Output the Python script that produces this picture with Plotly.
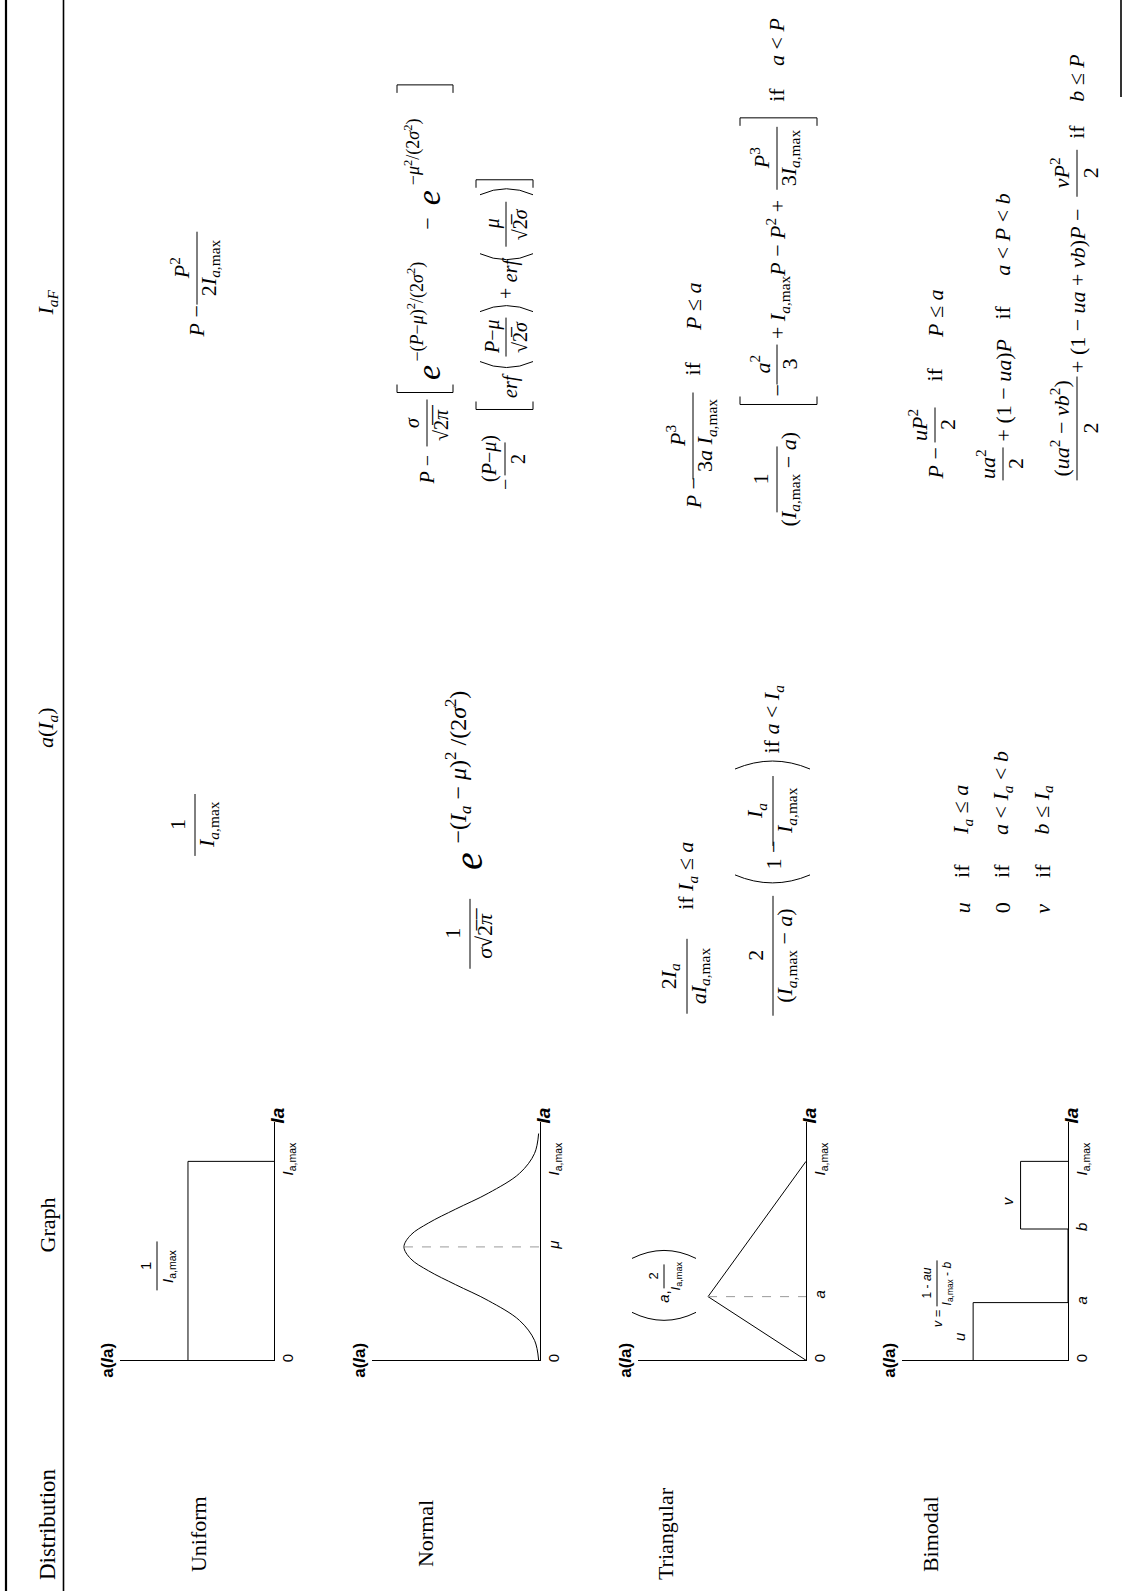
import plotly.graph_objects as go

W, H = 1133, 1593
SERIF = "Liberation Serif"
SANS = "Liberation Sans"
IMAX = "<i>I</i><sub><i>a</i>,max</sub>"
IMAX_S = "<i>I</i><sub>a,max</sub>"
NB = "\u00a0"
OV = "\u0305"

# ---------------- data ----------------
headers = ["Distribution", "Graph", "<i>a</i>(<i>I<sub>a</sub></i>)", "<i>I<sub>aF</sub></i>"]
distributions = ["Uniform", "Normal", "Triangular", "Bimodal"]

# graphs: Ia on the vertical axis, a(Ia) on the horizontal axis (Ia,max = 1)
uniform_Ia = [0.0, 1.0, 1.0]
uniform_a = [1.0, 1.0, 0.0]
uniform_ticks = [0.0, 1.0]
uniform_ticktext = ["0", IMAX_S]

normal_Ia = [0.00, 0.10, 0.20, 0.30, 0.38, 0.45, 0.51, 0.57, 0.63, 0.69, 0.76, 0.84, 0.94, 1.04, 1.14]
normal_a = [0.01, 0.04, 0.15, 0.38, 0.62, 0.82, 0.95, 1.00, 0.95, 0.82, 0.62, 0.38, 0.15, 0.04, 0.01]
normal_mu = 0.57
normal_peak = 1.0
normal_ticks = [0.0, 0.57, 1.0]
normal_ticktext = ["0", "<i>μ</i>", IMAX_S]

tri_mode = 0.32
tri_peak = 2.0
tri_Ia = [0.0, 0.32, 1.0]
tri_a = [0.0, 2.0, 0.0]
tri_ticks = [0.0, 0.32, 1.0]
tri_ticktext = ["0", "<i>a</i>", IMAX_S]

bi_Ia = [0.0, 0.29, 0.29, 0.66, 0.66, 1.0, 1.0]
bi_a = [1.0, 1.0, 0.0, 0.0, 0.5, 0.5, 0.0]
bi_u, bi_v = 1.0, 0.5
bi_ticks = [0.0, 0.29, 0.66, 1.0]
bi_ticktext = ["0", "<i>a</i>", "<i>b</i>", IMAX_S]

# ---------------- figure ----------------
fig = go.Figure()
ann = []
shapes = []


def T(x, y, s, size=22, font=SERIF, anchor="bottom", color="black"):
    ann.append(dict(x=x, y=y, xref="x", yref="y", text=s, showarrow=False,
                    textangle=-90, xanchor="center", yanchor=anchor,
                    font=dict(family=font, size=size, color=color)))


def L(x0, y0, x1, y1, w=1.0, color="black", dash="solid"):
    shapes.append(dict(type="line", xref="x", yref="y", x0=x0, y0=y0, x1=x1, y1=y1,
                       line=dict(color=color, width=w, dash=dash)))


def P(path, w=1.0):
    shapes.append(dict(type="path", xref="x", yref="y", path=path,
                       line=dict(color="black", width=w)))


def frac(bx, yb, yt, num, den, size=22, font=SERIF, no=-17, do=13, w=1.0):
    L(bx, yb, bx, yt, w=w)
    ym = (yb + yt) / 2
    T(bx + no, ym, num, size, font, "middle")
    T(bx + do, ym, den, size, font, "middle")


def lbr(x0, x1, y, d=8):   # "[" rotated
    P(f"M {x0},{y-d} L {x0},{y} L {x1},{y} L {x1},{y-d}")


def rbr(x0, x1, y, d=8):   # "]" rotated
    P(f"M {x0},{y+d} L {x0},{y} L {x1},{y} L {x1},{y+d}")


def lpar(x0, x1, y, d=12):  # "(" rotated
    P(f"M {x0},{y} Q {(x0+x1)/2},{y+2*d} {x1},{y}")


def rpar(x0, x1, y, d=12):  # ")" rotated
    P(f"M {x0},{y} Q {(x0+x1)/2},{y-2*d} {x1},{y}")


def sp(s):
    return s.replace(" ", NB)


SQ2PI = "√2" + OV + "<i>π</i>" + OV
SQ2S = "√2" + OV + "<i>σ</i>"

# table rules
L(6, 0, 6, H, w=2.2)
L(63.5, 0, 63.5, H, w=1.6)
shapes.append(dict(type="line", xref="paper", yref="paper", x0=1121 / W, x1=1121 / W,
                   y0=1.0, y1=1 - 97 / H, line=dict(color="black", width=1.6)))

# headers
T(47, 1526, headers[0], 23, anchor="middle")
T(47, 1227, headers[1], 22, anchor="middle")
T(47, 729, headers[2], 22, anchor="middle")
T(47, 303, headers[3], 22, anchor="middle")

# distribution names
for xc, name in zip([198, 425, 665, 930], distributions):
    T(xc, 1536, name, 22, anchor="middle")

# ---------------- mini graphs ----------------
Y0, YT, IA_TOP = 1362, 1123, 1.2
boxes = [(120, 274, 1.79), (372, 540, 1.235), (638, 806, 3.43), (902, 1068, 1.75)]
gdata = [
    (uniform_a, uniform_Ia, uniform_ticks, uniform_ticktext),
    (normal_a, normal_Ia, normal_ticks, normal_ticktext),
    (tri_a, tri_Ia, tri_ticks, tri_ticktext),
    (bi_a, bi_Ia, bi_ticks, bi_ticktext),
]
for k, ((xl, xo, aleft), (ax, ay, tv, tt)) in enumerate(zip(boxes, gdata), start=2):
    xa, ya = f"x{k}", f"y{k}"
    fig.add_trace(go.Scatter(x=ax, y=ay, xaxis=xa, yaxis=ya, mode="lines",
                             line=dict(color="black", width=1,
                                       shape="spline" if k == 3 else "linear"),
                             hoverinfo="skip"))
    fig.layout[f"xaxis{k}"] = dict(domain=[xl / W, xo / W], range=[aleft, 0], anchor=ya,
                                   showline=True, linecolor="black", linewidth=1,
                                   showgrid=False, zeroline=False, showticklabels=False,
                                   ticks="", fixedrange=True)
    fig.layout[f"yaxis{k}"] = dict(domain=[1 - Y0 / H, 1 - YT / H], range=[0, IA_TOP],
                                   anchor=xa, side="right", showline=True, linecolor="black",
                                   linewidth=1, showgrid=False, zeroline=False, ticks="",
                                   tickvals=tv, ticktext=tt, tickangle=-90,
                                   tickfont=dict(family=SANS, size=15, color="black"),
                                   fixedrange=True)
    ann.append(dict(x=aleft, y=0, xref=xa, yref=ya, text="<b>a(<i>I</i>a)</b>",
                    showarrow=False, textangle=-90, xanchor="right", yanchor="middle",
                    xshift=-1, font=dict(family=SANS, size=17, color="black")))
    ann.append(dict(x=0, y=IA_TOP, xref=xa, yref=ya, text="<b><i>Ia</i></b>",
                    showarrow=False, textangle=-90, xanchor="center", yanchor="bottom",
                    xshift=4, yshift=-4, font=dict(family=SANS, size=19, color="black")))

# dashed guides
fig.add_trace(go.Scatter(x=[normal_peak, 0], y=[normal_mu, normal_mu], xaxis="x3", yaxis="y3",
                         mode="lines", line=dict(color="#9a9a9a", width=1, dash="dash"),
                         hoverinfo="skip"))
fig.add_trace(go.Scatter(x=[tri_peak, 0], y=[tri_mode, tri_mode], xaxis="x4", yaxis="y4",
                         mode="lines", line=dict(color="#9a9a9a", width=1, dash="dash"),
                         hoverinfo="skip"))

# graph labels
frac(157, 1292, 1243, "1", IMAX_S, 15, SANS, no=-11, do=12)
lpar(632, 696, 1314, 8)
rpar(632, 696, 1260, 8)
T(664, 1307, "<i>a</i>,", 15, SANS)
frac(664, 1290, 1266, "2", IMAX_S, 13, SANS, no=-11, do=12)
ann.append(dict(x=bi_u, y=0.12, xref="x5", yref="y5", text="<i>u</i>", showarrow=False,
                textangle=-90, xanchor="right", yanchor="middle", xshift=-3,
                font=dict(family=SANS, size=15, color="black")))
ann.append(dict(x=bi_v, y=0.8, xref="x5", yref="y5", text="<i>v</i>", showarrow=False,
                textangle=-90, xanchor="right", yanchor="middle", xshift=-3,
                font=dict(family=SANS, size=15, color="black")))
T(937, 1331, "<i>v</i> =", 13, SANS)
frac(937, 1308, 1262, "1 - <i>au</i>", IMAX_S + " - <i>b</i>", 12, SANS, no=-10, do=11)

# ---------------- a(Ia) column ----------------
frac(195, 857, 795, "1", IMAX)
# normal
frac(470, 970, 900, "1", "<i>σ</i>" + SQ2PI, 22, no=-17, do=15)
T(469, 873, "<i>e</i>", 40)
T(458, 847, sp("−(<i>I<sub>a</sub></i> − <i>μ</i>)<sup>2</sup> /(2<i>σ</i><sup>2</sup>)"), 24)
# triangular
frac(687, 1015, 940, "2<i>I<sub>a</sub></i>", "<i>aI</i><sub><i>a</i>,max</sub>")
T(687, 913, sp("if <i>I<sub>a</sub></i> ≤ <i>a</i>"), 22)
frac(773, 1017, 897, "2", "(" + IMAX + sp(" − <i>a</i>)"))
lpar(735, 810, 876, 8)
T(773, 873, sp("1 −"), 22)
frac(773, 847, 777, "<i>I<sub>a</sub></i>", IMAX)
rpar(735, 810, 770, 8)
T(773, 757, sp("if <i>a</i> < <i>I<sub>a</sub></i>"), 22)
# bimodal
for xc, val, cond in zip([962, 1002, 1043], ["<i>u</i>", "0", "<i>v</i>"],
                         ["<i>I<sub>a</sub></i> ≤ <i>a</i>",
                          "<i>a</i> < <i>I<sub>a</sub></i> < <i>b</i>",
                          "<i>b</i> ≤ <i>I<sub>a</sub></i>"]):
    T(xc, 917, val, 22)
    T(xc, 881, "if", 22)
    T(xc, 838, sp(cond), 22)

# ---------------- IaF column ----------------
T(197, 340, sp("<i>P</i> −"), 22)
frac(197, 305, 232, "<i>P</i><sup>2</sup>", "2" + IMAX)
# normal line 1
T(427, 487, sp("<i>P</i> −"), 20)
frac(427, 447, 400, "<i>σ</i>", SQ2PI, 20, no=-15, do=14)
lbr(397, 453, 393)
T(428, 383, "<i>e</i>", 34)
T(416, 364, "−(<i>P</i>−<i>μ</i>)<sup>2</sup>/(2<i>σ</i><sup>2</sup>)", 18)
T(428, 232, "−", 22)
T(428, 208, "<i>e</i>", 34)
T(413, 188, "−<i>μ</i><sup>2</sup>/(2<i>σ</i><sup>2</sup>)", 18)
rbr(397, 453, 85)
# normal line 2
T(505, 493, "−", 20)
frac(505, 476, 443, "(<i>P</i>−<i>μ</i>)", "2", 20, no=-15, do=13)
lbr(476, 533, 410)
T(510, 401, "<i>erf</i>", 20)
lpar(480, 533, 362, 6)
frac(506, 357, 318, "<i>P</i>−<i>μ</i>", SQ2S, 20, no=-14, do=14)
rpar(480, 533, 312, 6)
T(506, 302, "+", 20)
T(510, 285, "<i>erf</i>", 20)
lpar(480, 533, 254, 6)
frac(506, 247, 202, "<i>μ</i>", SQ2S, 20, no=-14, do=14)
rpar(480, 533, 195, 6)
rbr(476, 533, 180)
# triangular
T(693, 512, sp("<i>P</i> −"), 22)
frac(693, 480, 393, "<i>P</i><sup>3</sup>", "3<i>a</i>" + NB + IMAX)
T(693, 378, "if", 22)
T(693, 334, sp("<i>P</i> ≤ <i>a</i>"), 22)
frac(777, 513, 447, "1", "(" + IMAX + sp(" − <i>a</i>)"))
lbr(740, 817, 405)
T(777, 399, "−", 22)
frac(777, 385, 345, "<i>a</i><sup>2</sup>", "3")
T(777, 342, sp("+ ") + IMAX + sp("<i>P</i> − <i>P</i><sup>2</sup> +"), 22)
frac(777, 190, 127, "<i>P</i><sup>3</sup>", "3" + IMAX)
rbr(740, 817, 118)
T(777, 104, "if", 22)
T(777, 68, sp("<i>a</i> < <i>P</i>"), 22)
# bimodal
T(935, 482, sp("<i>P</i> −"), 22)
frac(935, 443, 408, "<i>uP</i><sup>2</sup>", "2")
T(935, 384, "if", 22)
T(935, 341, sp("<i>P</i> ≤ <i>a</i>"), 22)
frac(1003, 481, 448, "<i>ua</i><sup>2</sup>", "2")
T(1003, 444, sp("+ (1 − <i>ua</i>)<i>P</i>"), 22)
T(1003, 322, "if", 22)
T(1003, 278, sp("<i>a</i> < <i>P</i> < <i>b</i>"), 22)
frac(1077, 481, 377, sp("(<i>ua</i><sup>2</sup> − <i>vb</i><sup>2</sup>)"), "2")
T(1077, 376, sp("+ (1 − <i>ua</i> + <i>vb</i>)<i>P</i> −"), 22)
frac(1077, 197, 150, "<i>vP</i><sup>2</sup>", "2")
T(1077, 141, "if", 22)
T(1077, 104, sp("<i>b</i> ≤ <i>P</i>"), 22)

fig.update_layout(
    width=W, height=H, margin=dict(l=0, r=0, t=0, b=0),
    paper_bgcolor="white", plot_bgcolor="rgba(0,0,0,0)", showlegend=False,
    xaxis=dict(range=[0, W], domain=[0, 1], visible=False, fixedrange=True),
    yaxis=dict(range=[H, 0], domain=[0, 1], visible=False, fixedrange=True),
    annotations=ann, shapes=shapes,
)
fig.write_html("out.html", config={"displayModeBar": False},
               post_script="document.body.style.margin='0px';")
